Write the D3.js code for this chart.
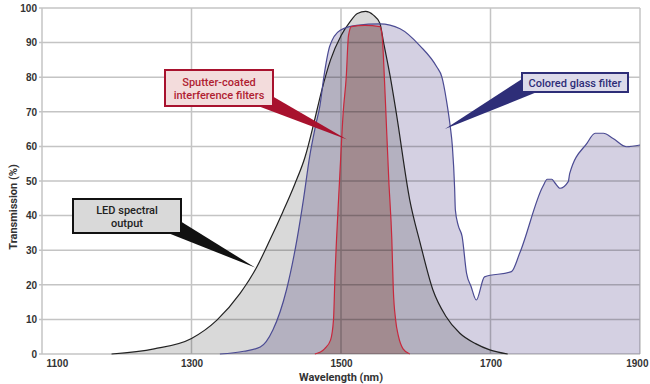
<!DOCTYPE html>
<html>
<head>
<meta charset="utf-8">
<script src="https://cdn.jsdelivr.net/npm/d3@7"></script>
<style>
  body { margin: 0; background: #fff; }
  svg { display: block; font-family: "Liberation Sans Narrow", "Roboto", sans-serif; }
</style>
</head>
<body>
<svg id="chart" width="650" height="384"></svg>
<script>
// x ticks (nm) and y ticks (%)
const xTicks = [1100, 1300, 1500, 1700, 1900];
const yTicks = [0, 10, 20, 30, 40, 50, 60, 70, 80, 90, 100];

// [wavelength, transmission]
const ledOutput = [
    [1193, 0], [1250, 1.5], [1300, 4.5], [1334, 9.8], [1365, 17.5], [1387, 25],
    [1405, 33], [1422, 41], [1438, 49], [1452, 57], [1464, 67], [1474, 76],
    [1486, 85], [1500, 92], [1512, 96], [1522, 98.4], [1533, 99], [1543, 98],
    [1552, 95.6], [1557, 90], [1566, 80], [1574, 69.6], [1592, 44.5], [1606, 32],
    [1623, 18.5], [1640, 11], [1659, 6], [1680, 3], [1699, 1.2], [1723, 0]
];

const glassFilter = [
    [1338, 0], [1370, 0.8], [1392, 2], [1409, 7], [1427, 18.5], [1441, 33],
    [1450, 45], [1458, 57], [1466, 66], [1472, 72], [1477, 80], [1485, 89],
    [1499, 93.6], [1521, 95], [1552, 95.4], [1579, 94], [1606, 89], [1628, 83],
    [1635, 80], [1641, 73.4], [1646, 66], [1649, 60], [1652, 48], [1653, 41.6],
    [1657, 37], [1662, 34], [1668, 23.3], [1674, 19.5], [1681, 15.6], [1692, 22.3],
    [1728, 23.8], [1739, 29.1], [1770, 48.4], [1776, 50.5], [1782, 50.5],
    [1786, 49.5], [1793, 47.9], [1804, 49.8], [1806, 52.2], [1829, 60.9],
    [1840, 63.8], [1851, 63.8], [1864, 62.3], [1882, 59.9], [1900, 60.4]
];

const sputterFilter = [
    [1465, 0], [1478, 1.5], [1486, 4], [1490, 10], [1492, 23], [1494, 33],
    [1498, 50], [1503, 70], [1507, 80], [1510, 92], [1514, 94.6], [1532, 95],
    [1552, 94.6], [1555, 92], [1558, 80], [1560, 70], [1564, 50], [1568, 33],
    [1570, 18.5], [1573, 10], [1577, 5], [1583, 1.5], [1592, 0]
];

const svg = d3.select("#chart");
const x = d3.scaleLinear().domain([1100, 1900]).range([42, 640]);
const y = d3.scaleLinear().domain([0, 100]).range([354, 8]);

const plot = svg.append("g").style("isolation", "isolate");

plot.append("rect")
    .attr("x", 0).attr("y", 0)
    .attr("width", 650).attr("height", 384)
    .attr("fill", "#fff");

// grid
const grid = plot.append("g").attr("class", "grid");
grid.selectAll("line.h")
    .data(yTicks)
    .enter().append("line")
    .attr("class", "h")
    .attr("x1", x(1100) - 3)
    .attr("x2", x(1900))
    .attr("y1", d => y(d))
    .attr("y2", d => y(d))
    .attr("stroke", "#c4c4c4")
    .attr("stroke-width", 1.5);
grid.selectAll("line.v")
    .data(xTicks)
    .enter().append("line")
    .attr("class", "v")
    .attr("x1", d => x(d))
    .attr("x2", d => x(d))
    .attr("y1", y(100))
    .attr("y2", y(0))
    .attr("stroke", "#c4c4c4")
    .attr("stroke-width", 1.5);

const area = d3.area()
    .x(d => x(d[0]))
    .y0(y(0))
    .y1(d => y(d[1]))
    .curve(d3.curveMonotoneX);
const line = d3.line()
    .x(d => x(d[0]))
    .y(d => y(d[1]))
    .curve(d3.curveMonotoneX);

const series = [
    {data: ledOutput, fill: "#d9d9d9", stroke: "#222"},
    {data: glassFilter, fill: "#d4d0e2", stroke: "#4b4b93"},
    {data: sputterFilter, fill: "#e6c8c0", stroke: "#c8283c"}
];

series.forEach(function (s) {
    plot.append("path")
        .datum(s.data)
        .attr("d", area)
        .attr("fill", s.fill)
        .style("mix-blend-mode", "multiply");
});
series.forEach(function (s) {
    plot.append("path")
        .datum(s.data)
        .attr("d", line)
        .attr("fill", "none")
        .attr("stroke", s.stroke)
        .attr("stroke-width", 1.2);
});

// axes labels
const yAxis = d3.axisLeft(y).tickValues(yTicks).tickSize(0).tickPadding(5);
svg.append("g")
    .attr("transform", `translate(${x(1100)},0)`)
    .call(yAxis)
    .call(g => g.select(".domain").remove())
    .selectAll("text")
    .attr("fill", "#333")
    .style("font-size", "10px")
    .style("font-weight", "bold")
    .style("font-family", "inherit");

const xAxis = d3.axisBottom(x).tickValues(xTicks).tickFormat(d3.format("d"))
    .tickSize(0).tickPadding(6);
svg.append("g")
    .attr("transform", `translate(0,${y(0)})`)
    .call(xAxis)
    .call(g => g.select(".domain").remove())
    .selectAll("text")
    .attr("fill", "#333")
    .attr("text-anchor", d => d === 1100 ? "start" : d === 1900 ? "end" : "middle")
    .attr("dx", d => d === 1100 ? 4 : d === 1900 ? 8 : 0)
    .style("font-size", "10px")
    .style("font-weight", "bold")
    .style("font-family", "inherit");

svg.append("text")
    .attr("transform", "translate(17,207) rotate(-90)")
    .attr("text-anchor", "middle")
    .attr("fill", "#333")
    .style("font-size", "11px")
    .style("font-weight", "bold")
    .text("Transmission (%)");

svg.append("text")
    .attr("x", 341)
    .attr("y", 381)
    .attr("text-anchor", "middle")
    .attr("fill", "#333")
    .style("font-size", "11px")
    .style("font-weight", "bold")
    .text("Wavelength (nm)");

// callouts: box + wedge pointing to a curve point
const callouts = [
    {lines: ["Sputter-coated", "interference filters"], box: [165, 70, 108, 36],
     base: [[272, 96], [258, 106]], tip: [1508, 62],
     fill: "#f3dcdc", stroke: "#a8122e", text: "#b01e32"},
    {lines: ["LED spectral", "output"], box: [73, 199, 108, 34],
     base: [[180, 221], [168, 233]], tip: [1385, 25],
     fill: "#d9d9d9", stroke: "#111", text: "#222"},
    {lines: ["Colored glass filter"], box: [522, 73, 106, 19],
     base: [[522, 79], [537, 92]], tip: [1639, 65],
     fill: "#dddbea", stroke: "#2e2e78", text: "#2e2e78"}
];

const notes = svg.append("g").attr("class", "callouts");
callouts.forEach(function (c) {
    const g = notes.append("g");
    const tip = [x(c.tip[0]), y(c.tip[1])];
    g.append("path")
        .attr("d", d3.line()([c.base[0], tip, c.base[1]]) + "Z")
        .attr("fill", c.stroke);
    g.append("rect")
        .attr("x", c.box[0]).attr("y", c.box[1])
        .attr("width", c.box[2]).attr("height", c.box[3])
        .attr("fill", c.fill)
        .attr("stroke", c.stroke)
        .attr("stroke-width", 2);
    const cx = c.box[0] + c.box[2] / 2;
    const n = c.lines.length;
    c.lines.forEach(function (t, i) {
        g.append("text")
            .attr("x", cx)
            .attr("y", c.box[1] + c.box[3] / 2 + (i - (n - 1) / 2) * 13 + 4)
            .attr("text-anchor", "middle")
            .attr("fill", c.text)
            .style("font-size", "11px")
            .style("font-weight", "500")
            .text(t);
    });
});
</script>
</body>
</html>
